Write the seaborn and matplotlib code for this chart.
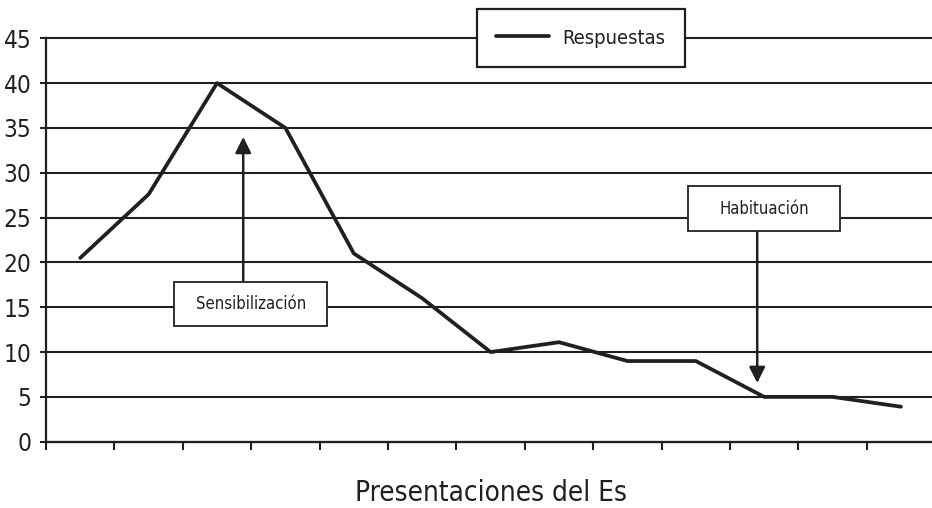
import matplotlib
matplotlib.use("Agg")
import matplotlib.pyplot as plt
import seaborn as sns
import pandas as pd
from matplotlib import font_manager
from matplotlib.patches import Rectangle

# Response magnitude for each presentation of the stimulus
presentaciones = list(range(1, 14))
respuestas = [20.5, 27.6, 40, 35, 21, 16, 10, 11.1, 9, 9, 5, 5, 3.9]
y_ticks = [0, 5, 10, 15, 20, 25, 30, 35, 40, 45]

serie = "Respuestas"
x_label = "Presentaciones del Es"
nota_sens = "Sensibilización"
nota_hab = "Habituación"

INK = "#231f20"

sns.set_theme(style="white")

# prefer a condensed sans face when one is installed
condensed = [f for f in font_manager.fontManager.ttflist
             if f.name == "DejaVu Sans" and "condensed" in str(f.stretch)
             and f.weight in (400, "normal", "regular")]
if condensed:
    plt.rcParams["font.family"] = ["DejaVu Sans"]
    plt.rcParams["font.stretch"] = "condensed"
else:
    plt.rcParams["font.family"] = ["Liberation Sans", "DejaVu Sans"]

df = pd.DataFrame({"presentacion": presentaciones, "respuesta": respuestas})

fig = plt.figure(figsize=(9.32, 5.08), dpi=100)
ax = fig.add_axes([0.0494, 0.1305, 0.954, 0.7941])

sns.lineplot(data=df, x="presentacion", y="respuesta", ax=ax, color=INK,
             lw=2.7, label=serie, zorder=4)

ax.set_xlim(0.5, 13.5)
ax.set_ylim(0, 45)

# horizontal reference lines
ax.set_yticks(y_ticks)
ax.yaxis.grid(True, color=INK, lw=1.5)
ax.xaxis.grid(False)
ax.set_axisbelow(True)
for gl in ax.get_ygridlines():
    gl.set_clip_on(False)

# tick marks between consecutive presentations, no labels
ax.set_xticks([p - 0.5 for p in presentaciones] + [presentaciones[-1] + 0.5])
ax.set_xticklabels([])
ax.tick_params(axis="x", bottom=True, length=5.5, width=1.5, color=INK)
ax.tick_params(axis="y", left=True, length=4.5, width=1.5, color=INK,
               labelsize=17.5, labelcolor=INK, pad=6)

for side in ("top", "right"):
    ax.spines[side].set_visible(False)
ax.spines["left"].set_color(INK)
ax.spines["left"].set_linewidth(1.6)
ax.spines["bottom"].set_color(INK)
ax.spines["bottom"].set_linewidth(1.6)

ax.set_xlabel(x_label, fontsize=20, color=INK, va="center")
ax.xaxis.set_label_coords(0.5, -0.127)
ax.set_ylabel("")


def caja(x0, x1, y0, y1, texto):
    ax.add_patch(Rectangle((x0, y0), x1 - x0, y1 - y0, facecolor="white",
                           edgecolor=INK, lw=1.3, zorder=5))
    ax.text((x0 + x1) / 2, (y0 + y1) / 2, texto, ha="center", va="center",
            fontsize=12, color=INK, zorder=6)


def flecha(x, y_desde, y_hasta):
    ax.annotate("", xy=(x, y_hasta), xytext=(x, y_desde),
                arrowprops=dict(arrowstyle="-|>", color=INK, lw=1.8,
                                mutation_scale=24, shrinkA=0, shrinkB=0),
                zorder=5)


# Sensibilización: arrow rising towards the peak
flecha(3.383, 17.8, 34.0)
caja(2.374, 4.611, 12.9, 17.8, nota_sens)

# Habituación: arrow pointing down at the plateau
flecha(10.898, 23.5, 6.55)
caja(9.889, 12.111, 23.5, 28.5, nota_hab)

leg = ax.legend(loc="center", bbox_to_anchor=(581 / 932, 1 - 38 / 508),
                bbox_transform=fig.transFigure, fontsize=14.5, frameon=True,
                fancybox=False, borderpad=0.95, handlelength=2.6,
                handletextpad=0.7, borderaxespad=0)
frame = leg.get_frame()
frame.set_edgecolor(INK)
frame.set_linewidth(1.6)
frame.set_facecolor("white")
frame.set_alpha(1)
for t in leg.get_texts():
    t.set_color(INK)

fig.savefig("out.png", dpi=100)
